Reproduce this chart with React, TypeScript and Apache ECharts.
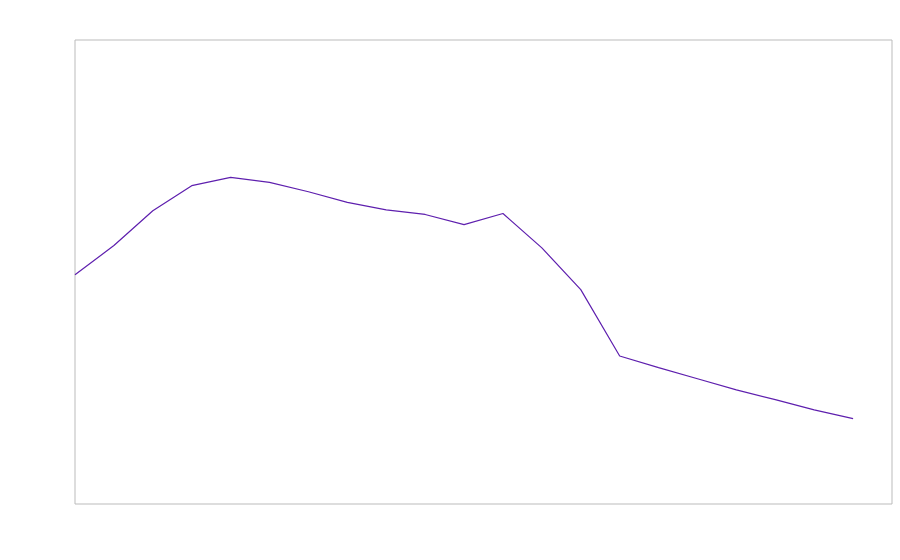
import React, { useEffect, useRef } from "react";
import * as echarts from "echarts";

const categories: number[] = [0, 1, 2, 3, 4, 5, 6, 7, 8, 9, 10, 11, 12, 13, 14, 15, 16, 17, 18, 19, 20];
const values: number[] = [
  49.4, 55.7, 63.2, 68.6, 70.4, 69.3, 67.3, 65.0, 63.4, 62.4, 60.2, 62.6, 55.2, 46.2, 31.9, 29.4, 27.0, 24.6,
  22.5, 20.3, 18.4,
];

export default function App() {
  const ref = useRef<HTMLDivElement>(null);
  useEffect(() => {
    if (!ref.current) return;
    const chart = echarts.init(ref.current, undefined, { renderer: "svg" });
    chart.setOption({
      animation: false,
      backgroundColor: "#ffffff",
      grid: {
        show: true,
        left: 75,
        top: 40,
        right: 8,
        bottom: 56,
        borderColor: "#bbbbbb",
        borderWidth: 1,
        backgroundColor: "transparent",
      },
      xAxis: {
        type: "value",
        min: 0,
        max: 21,
        show: false,
      },
      yAxis: {
        type: "value",
        min: 0,
        max: 100,
        show: false,
      },
      series: [
        {
          type: "line",
          data: categories.map((c, i) => [c, values[i]]),
          showSymbol: false,
          symbol: "none",
          lineStyle: { color: "#5e1fae", width: 1.2 },
          itemStyle: { color: "#5e1fae" },
        },
      ],
    });
    return () => chart.dispose();
  }, []);
  return (
    <div
      ref={ref}
      style={{ position: "fixed", left: 0, top: 0, width: 900, height: 560 }}
    />
  );
}
